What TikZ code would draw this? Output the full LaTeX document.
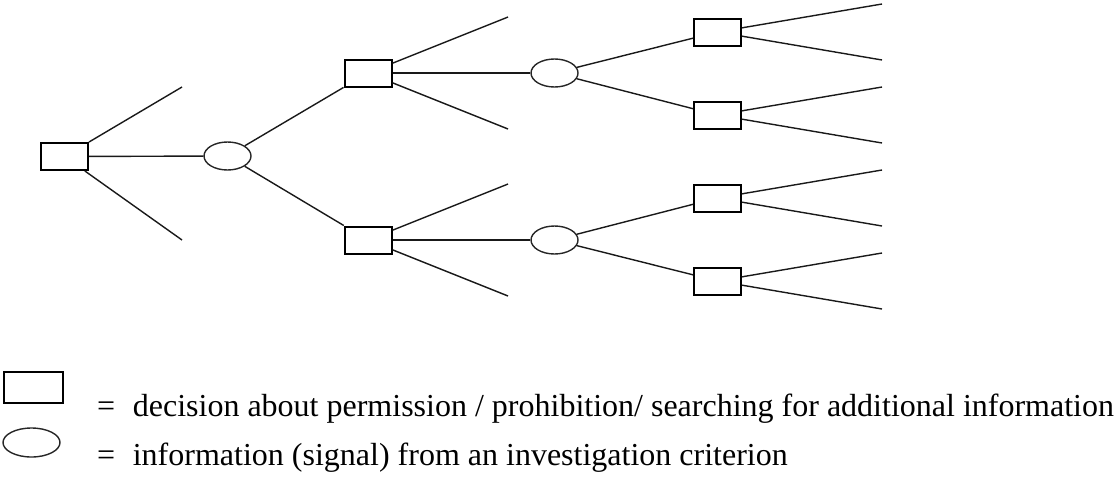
\documentclass[tikz,border=0pt]{standalone}
\usepackage{fontspec}
\setmainfont{Liberation Serif}
\usetikzlibrary{shapes.geometric}
\begin{document}
\begin{tikzpicture}[x=1pt,y=-1pt,
  dbox/.style={draw=black,line width=2pt,rectangle,minimum width=47pt,minimum height=27pt,inner sep=0pt},
  info/.style={draw=black!85,line width=1.4pt,ellipse,minimum width=47pt,minimum height=28pt,inner sep=0pt},
  edge/.style={draw=black!90,line width=1.4pt},
  legtext/.style={anchor=base west,inner sep=0pt,font=\fontsize{32}{38}\selectfont}]
\useasboundingbox (0,0) rectangle (1115,477);
% nodes
\node[dbox] (b1) at (64.5,156.5) {};
\node[info] (e1) at (227.5,156) {};
\node[dbox] (b2) at (368,73) {};
\node[dbox] (b3) at (368,240) {};
\node[info] (e2) at (554.5,73) {};
\node[info] (e3) at (554.5,240) {};
\node[dbox] (b4) at (717.5,32) {};
\node[dbox] (b5) at (717.5,115) {};
\node[dbox] (b6) at (717.5,198) {};
\node[dbox] (b7) at (717.5,281) {};
% free ends
\coordinate (t1) at (182,87);
\coordinate (t2) at (182,240);
\coordinate (t3) at (508,17);
\coordinate (t4) at (508,129);
\coordinate (t5) at (508,184);
\coordinate (t6) at (508,296);
\coordinate (r1) at (882,4);
\coordinate (r2) at (882,60);
\coordinate (r3) at (882,87);
\coordinate (r4) at (882,143);
\coordinate (r5) at (882,170);
\coordinate (r6) at (882,226);
\coordinate (r7) at (882,253);
\coordinate (r8) at (882,309);
% connectors
\draw[edge] (b1) -- (t1);
\draw[edge] (b1) -- (t2);
\draw[edge] (b1) -- (e1);
\draw[edge] (e1) -- (b2);
\draw[edge] (e1) -- (b3);
\draw[edge] (b2) -- (t3);
\draw[edge] (b2) -- (t4);
\draw[edge] (b2) -- (e2);
\draw[edge] (b3) -- (t5);
\draw[edge] (b3) -- (t6);
\draw[edge] (b3) -- (e3);
\draw[edge] (e2) -- (b4);
\draw[edge] (e2) -- (b5);
\draw[edge] (e3) -- (b6);
\draw[edge] (e3) -- (b7);
\draw[edge] (b4) -- (r1);
\draw[edge] (b4) -- (r2);
\draw[edge] (b5) -- (r3);
\draw[edge] (b5) -- (r4);
\draw[edge] (b6) -- (r5);
\draw[edge] (b6) -- (r6);
\draw[edge] (b7) -- (r7);
\draw[edge] (b7) -- (r8);
% legend
\node[dbox,line width=2.4pt,minimum width=59pt,minimum height=31pt] (lb) at (33.5,387.5) {};
\node[info,minimum width=57pt,minimum height=29pt] (le) at (31.5,442.5) {};
\node[legtext] (lt1) at (97,416) {=\hspace{0.55em}decision about permission / prohibition/ searching for additional information};
\node[legtext] (lt2) at (97,465) {=\hspace{0.55em}information (signal) from an investigation criterion};
\end{tikzpicture}
\end{document}
